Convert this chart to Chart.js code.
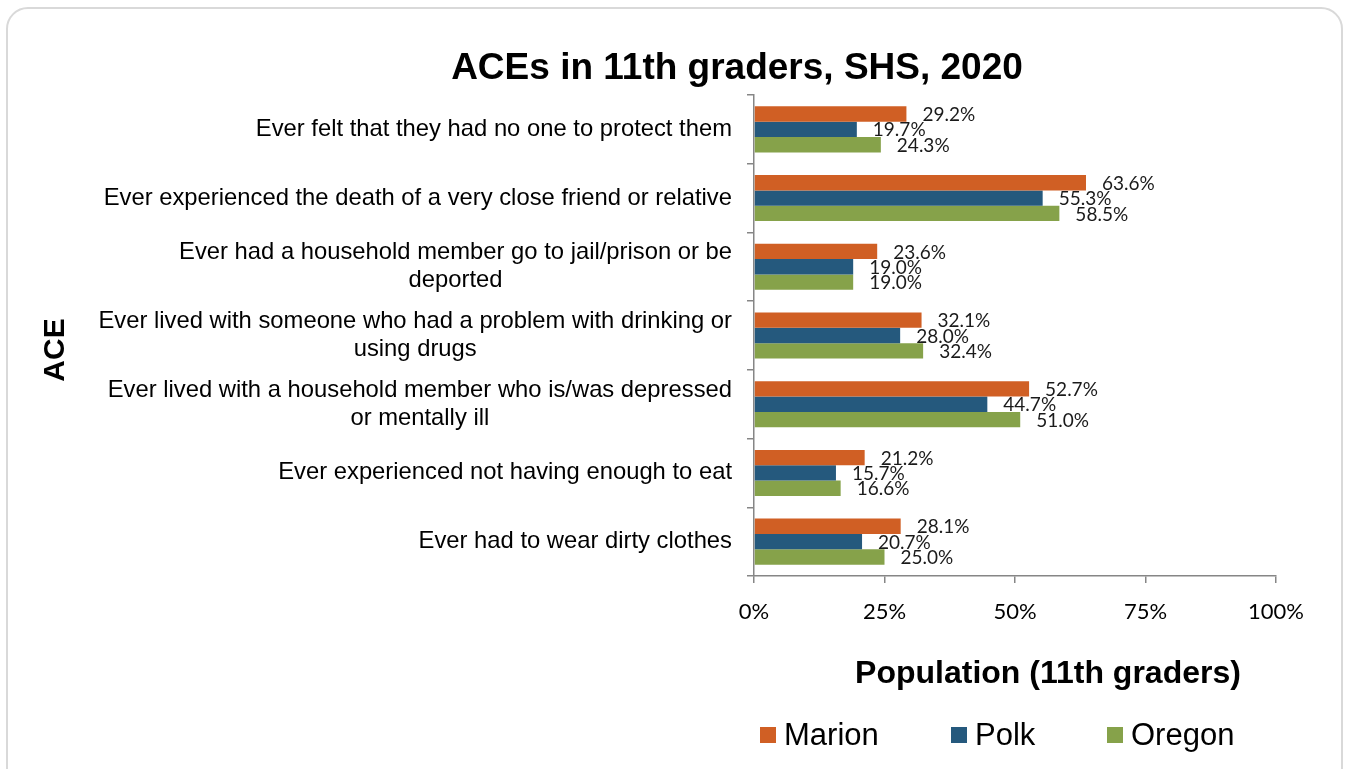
<!DOCTYPE html>
<html lang="en">
<head>
  <meta charset="UTF-8">
  <title>ACEs in 11th graders, SHS, 2020</title>
  <script src="https://cdn.jsdelivr.net/npm/chart.js"></script>
  <style>
    body {
      margin: 0;
      background: #ffffff;
      overflow: hidden;
    }

    .frame {
      position: absolute;
      left: 6px;
      top: 7px;
      width: 1337px;
      height: 800px;
      border: 2px solid #d9d9d9;
      border-radius: 22px;
      box-sizing: border-box;
    }

    #chart {
      position: absolute;
      left: 0;
      top: 0;
    }
  </style>
</head>
<body>

<div class="frame"></div>
<canvas id="chart" width="1351" height="769"></canvas>

<script>
  // categories, top to bottom
  const categories = [
    ["Ever felt that they had no one to protect them"],
    ["Ever experienced the death of a very close friend or relative"],
    ["Ever had a household member go to jail/prison or be", "deported"],
    ["Ever lived with someone who had a problem with drinking or", "using drugs"],
    ["Ever lived with a household member who is/was depressed", "or mentally ill"],
    ["Ever experienced not having enough to eat"],
    ["Ever had to wear dirty clothes"]
  ];

  const marion = [29.2, 63.6, 23.6, 32.1, 52.7, 21.2, 28.1];
  const polk   = [19.7, 55.3, 19.0, 28.0, 44.7, 15.7, 20.7];
  const oregon = [24.3, 58.5, 19.0, 32.4, 51.0, 16.6, 25.0];

  const seriesNames = ["Marion", "Polk", "Oregon"];
  const seriesColors = ["#d05f24", "#25597d", "#86a24a"];

  const xTicks = [0, 25, 50, 75, 100];

  const axisGray = "#868686";

  // value labels next to each bar + category labels + titles + legend
  const textPlugin = {
    id: "textPlugin",
    afterDatasetsDraw(chart) {
      const c = chart.ctx;
      c.save();

      // data labels
      c.font = "19px Lato";
      c.fillStyle = "#1a1a1a";
      c.textAlign = "left";
      c.textBaseline = "middle";
      chart.data.datasets.forEach((ds, di) => {
        const meta = chart.getDatasetMeta(di);
        meta.data.forEach((bar, i) => {
          c.fillText(ds.data[i].toFixed(1) + "%", bar.x + 16, bar.y + 1);
        });
      });

      // category labels: each block right-aligned, lines centred within it
      const yScale = chart.scales.y;
      c.font = "23.8px 'Liberation Sans', Arial, sans-serif";
      c.fillStyle = "#000";
      c.textAlign = "center";
      const right = 732;
      const lineH = 28;
      categories.forEach((lines, i) => {
        const yc = yScale.getPixelForValue(i);
        const w = Math.max(...lines.map(l => c.measureText(l).width));
        const x = right - w / 2;
        const y0 = yc - (lines.length - 1) * lineH / 2;
        lines.forEach((l, k) => c.fillText(l, x, y0 + k * lineH));
      });

      // chart title
      c.font = "bold 37px 'Liberation Sans', Arial, sans-serif";
      c.fillText("ACEs in 11th graders, SHS, 2020", 737, 69);

      // x axis title
      c.font = "bold 32px 'Liberation Sans', Arial, sans-serif";
      c.fillText("Population (11th graders)", 1048, 674);

      // y axis title
      c.save();
      c.translate(56, 350);
      c.rotate(-Math.PI / 2);
      c.font = "bold 30px 'Liberation Sans', Arial, sans-serif";
      c.fillText("ACE", 0, 0);
      c.restore();

      // legend
      const legendX = [760, 951, 1107];
      c.font = "31px 'Liberation Sans', Arial, sans-serif";
      c.textAlign = "left";
      seriesNames.forEach((name, i) => {
        c.fillStyle = seriesColors[i];
        c.fillRect(legendX[i], 727, 16, 16);
        c.fillStyle = "#000";
        c.fillText(name, legendX[i] + 24, 736);
      });

      c.restore();
    }
  };

  const ctx = document.getElementById("chart").getContext("2d");

  const chart = new Chart(ctx, {
    type: "bar",
    data: {
      labels: categories.map(l => l.join(" ")),
      datasets: [marion, polk, oregon].map((vals, i) => ({
        label: seriesNames[i],
        data: vals,
        backgroundColor: seriesColors[i],
        borderWidth: 0,
        categoryPercentage: 0.67,
        barPercentage: 1.0
      }))
    },
    options: {
      indexAxis: "y",
      responsive: false,
      animation: false,
      devicePixelRatio: 1,
      layout: {
        padding: { top: 95, right: 75, bottom: 0, left: 0 }
      },
      plugins: {
        legend: { display: false },
        title: { display: false },
        tooltip: { enabled: false }
      },
      scales: {
        x: {
          min: 0,
          max: 100,
          afterBuildTicks(scale) {
            scale.ticks = xTicks.map(v => ({ value: v }));
          },
          afterFit(scale) {
            scale.height = 193;
          },
          ticks: {
            font: { family: "Lato", size: 22 },
            color: "#000",
            padding: 16,
            maxRotation: 0,
            callback: v => v + "%"
          },
          grid: {
            drawOnChartArea: false,
            drawTicks: true,
            tickLength: 7,
            color: axisGray,
            lineWidth: 1.5
          },
          border: { color: axisGray, width: 1.5 }
        },
        y: {
          afterFit(scale) {
            scale.width = 754;
          },
          ticks: { display: false },
          grid: {
            offset: true,
            drawOnChartArea: false,
            drawTicks: true,
            tickLength: 7,
            color: axisGray,
            lineWidth: 1.5
          },
          border: { color: axisGray, width: 1.5 }
        }
      }
    },
    plugins: [textPlugin]
  });
</script>

</body>
</html>
